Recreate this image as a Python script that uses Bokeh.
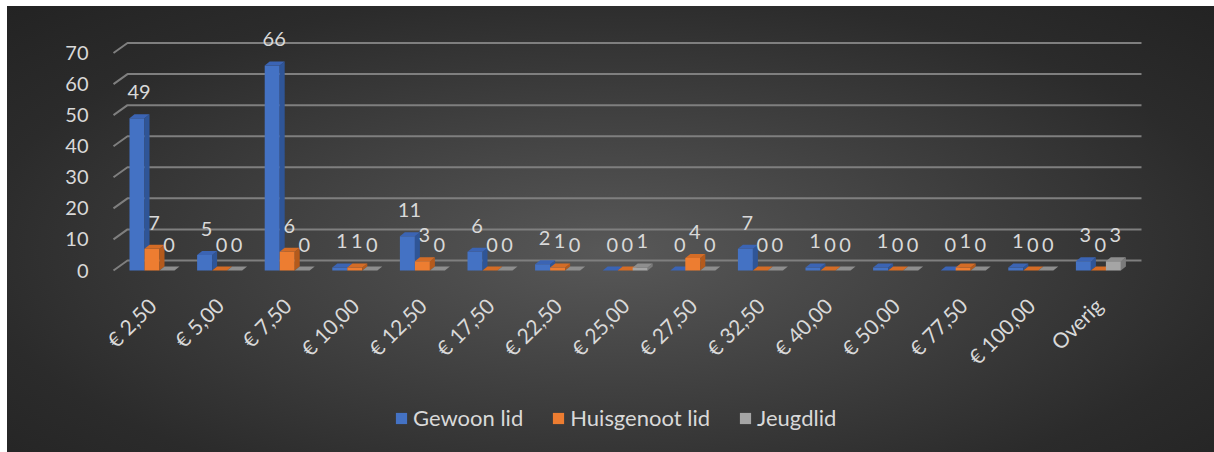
import math
from bokeh.plotting import figure
from bokeh.models import Range1d, FixedTicker, Legend, LegendItem, ColumnDataSource, InlineStyleSheet
from bokeh.embed import file_html
from bokeh.resources import INLINE
from bokeh.core.properties import value

categories = ["€ 2,50", "€ 5,00", "€ 7,50", "€ 10,00", "€ 12,50", "€ 17,50", "€ 22,50",
              "€ 25,00", "€ 27,50", "€ 32,50", "€ 40,00", "€ 50,00", "€ 77,50", "€ 100,00", "Overig"]
gewoon_lid = [49, 5, 66, 1, 11, 6, 2, 0, 0, 7, 1, 1, 0, 1, 3]
huisgenoot_lid = [7, 0, 6, 1, 3, 0, 1, 0, 4, 0, 0, 0, 1, 0, 0]
jeugdlid = [0, 0, 0, 0, 0, 0, 0, 1, 0, 0, 0, 0, 0, 0, 3]
series_names = ["Gewoon lid", "Huisgenoot lid", "Jeugdlid"]
y_ticks = [0, 10, 20, 30, 40, 50, 60, 70]

FONT = "Lato"
TXT = "#d9d9d9"

W, H = 1207, 446
LEFT, RIGHT, TOP, BOTTOM = 101, 66, 24, 6
FW = W - LEFT - RIGHT
FH = H - TOP - BOTTOM
PX = 67.6     # pixels per category
PY = 3.107    # pixels per unit
x0 = -0.5 - 9.7 / PX
x1 = x0 + FW / PX
y0 = -176 / PY
y1 = y0 + FH / PY

p = figure(width=W, height=H, output_backend="svg", toolbar_location=None,
           x_range=Range1d(x0, x1), y_range=Range1d(y0, y1),
           min_border_left=LEFT, min_border_right=RIGHT, min_border_top=TOP,
           min_border_bottom=BOTTOM)
p.margin = (6, 0, 0, 7)
p.border_fill_color = None
p.background_fill_color = None
p.outline_line_color = None
p.stylesheets = [InlineStyleSheet(css=":host { background: radial-gradient(ellipse at 50% 55%, #585858 0%, #2b2b2b 75%, #232323 100%); }")]
p.xgrid.visible = False
p.ygrid.visible = False

# 3D wall grid lines
DX = 14 / PX
DY = 10 / PY
wall_fl = x0 + 5 / PX
wall_bl = wall_fl + DX
wall_r = x0 + 1033 / PX
gxs = [[wall_fl, wall_bl, wall_r] for v in y_ticks]
gys = [[v, v + DY, v + DY] for v in y_ticks]
p.multi_line(gxs, gys, line_color="#7f7f7f", line_width=2)

BW = 15 / PX
ddx = 5 / PX
ddy = 4 / PY
offsets = [-BW, 0, BW]
front_cols = ["#4472c4", "#ed7d31", "#a5a5a5"]
side_cols = ["#2f5597", "#b45a1c", "#7b7b7b"]
top_cols = ["#3b64b4", "#d46c26", "#8e8e8e"]
all_series = [gewoon_lid, huisgenoot_lid, jeugdlid]

legend_items = []
for si, vals in enumerate(all_series):
    xs = [i + offsets[si] for i in range(len(categories))]
    src = ColumnDataSource(dict(x=xs, top=vals))
    r = p.vbar(x="x", top="top", bottom=0, width=BW, source=src,
               fill_color=front_cols[si], line_color=None)
    legend_items.append(LegendItem(label=series_names[si], renderers=[r]))
    side_x, side_y, top_x, top_y = [], [], [], []
    for x, v in zip(xs, vals):
        xr = x + BW / 2
        xl = x - BW / 2
        side_x.append([xr, xr + ddx, xr + ddx, xr])
        side_y.append([0, ddy, v + ddy, v])
        top_x.append([xl, xr, xr + ddx, xl + ddx])
        top_y.append([v, v, v + ddy, v + ddy])
    p.patches(side_x, side_y, fill_color=side_cols[si], line_color=None)
    p.patches(top_x, top_y, fill_color=top_cols[si], line_color=None)

for si, vals in enumerate(all_series):
    xs = [i + offsets[si] + 2 / PX for i in range(len(categories))]
    ys = [v + 26 / PY for v in vals]
    p.text(xs, ys, text=[str(v) for v in vals], text_align="center", text_baseline="middle",
           text_font=value(FONT), text_font_size="20px", text_color=TXT)

p.yaxis.ticker = FixedTicker(ticks=y_ticks)
p.yaxis.axis_line_color = None
p.yaxis.major_tick_line_color = None
p.yaxis.minor_tick_line_color = None
p.yaxis.major_label_text_font = FONT
p.yaxis.major_label_text_font_size = "20px"
p.yaxis.major_label_text_color = TXT
p.yaxis.major_label_standoff = 14

p.xaxis.fixed_location = -17 / PY
p.xaxis.ticker = FixedTicker(ticks=list(range(len(categories))))
p.xaxis.major_label_overrides = {i: c for i, c in enumerate(categories)}
p.xaxis.major_label_orientation = math.pi / 4
p.xaxis.axis_line_color = None
p.xaxis.major_tick_line_color = None
p.xaxis.minor_tick_line_color = None
p.xaxis.major_label_text_font = FONT
p.xaxis.major_label_text_font_size = "21px"
p.xaxis.major_label_text_color = TXT
p.xaxis.major_label_standoff = 8

legend = Legend(items=legend_items, orientation="horizontal", location=(286, 15),
                border_line_color=None, background_fill_color=None, background_fill_alpha=0,
                padding=0, margin=0, spacing=28, label_standoff=5,
                glyph_width=14, glyph_height=14,
                label_text_font=FONT, label_text_font_size="22px", label_text_color=TXT)
p.add_layout(legend, "center")

open("out.html", "w").write(file_html(p, INLINE))
